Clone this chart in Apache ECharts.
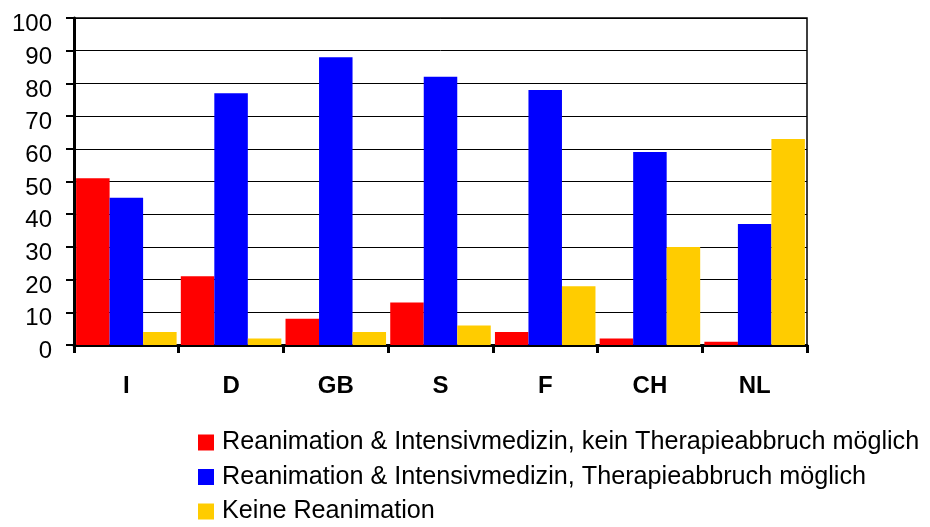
<!DOCTYPE html>
<html><head><meta charset="utf-8">
<script src="https://cdn.jsdelivr.net/npm/echarts@6/dist/echarts.min.js"></script>
<style>html,body{margin:0;padding:0;background:#fff}#c{width:930px;height:527px}</style>
</head><body><div id="c"></div>
<script>
var categories = ['I','D','GB','S','F','CH','NL'];
var seriesNames = ['Reanimation & Intensivmedizin, kein Therapieabbruch möglich','Reanimation & Intensivmedizin, Therapieabbruch möglich','Keine Reanimation'];
var kein = [51,21,8,13,4,2,1];
var abbruch = [45,77,88,82,78,59,37];
var keine = [4,2,4,6,18,30,63];
var colors = ['#ff0000','#0000ff','#ffcc00'];
var font = 'Liberation Sans, Arial, sans-serif';
var chart = echarts.init(document.getElementById('c'));
var data = [kein, abbruch, keine];
chart.setOption({
  animation:false,
  color: colors,
  grid:{left:74,right:123,top:18,bottom:182,show:true,borderColor:'#000',borderWidth:1.5},
  legend:{orient:'vertical',left:198,top:430,height:100,itemWidth:16,itemHeight:16,itemGap:9.5,icon:'rect',
    padding:0,
    textStyle:{fontFamily:font,fontSize:25.2,lineHeight:25,color:'#000',padding:[0,0,0,3]},
    data:seriesNames},
  xAxis:{type:'category',data:categories,
    axisLine:{lineStyle:{color:'#000',width:3}},
    axisTick:{show:true,length:8,lineStyle:{color:'#000',width:3}},
    axisLabel:{fontFamily:font,fontSize:24,fontWeight:'bold',color:'#000',margin:29}},
  yAxis:{type:'value',min:0,max:100,interval:10,
    axisLine:{show:true,lineStyle:{color:'#000',width:3}},
    axisTick:{show:true,length:8,lineStyle:{color:'#000',width:2}},
    splitLine:{lineStyle:{color:'#000',width:1}},
    axisLabel:{color:'#000',margin:22,formatter:'{a|{value}}',
      rich:{a:{fontFamily:font,fontSize:24,color:'#000',padding:[13,0,0,0]}}}},
  series: data.map(function(d,i){return {name:seriesNames[i],type:'bar',data:d,barGap:'0%',barCategoryGap:'4%'};})
});
</script></body></html>
